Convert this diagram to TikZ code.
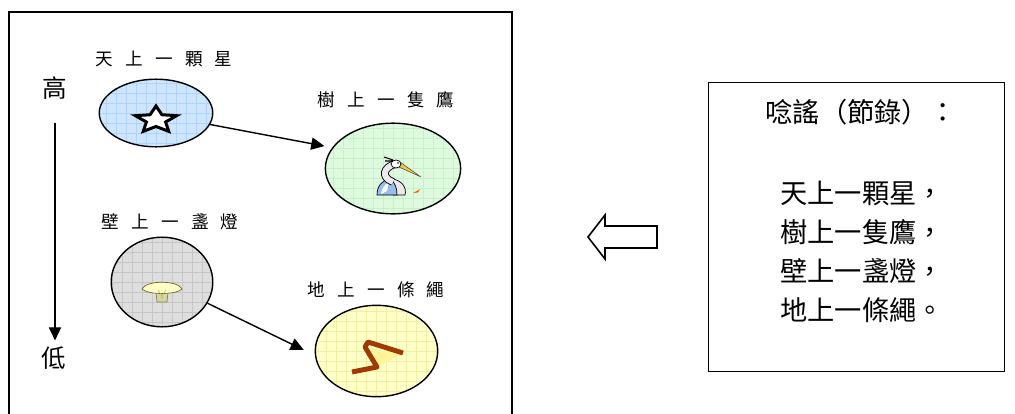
\documentclass[tikz,border=0pt]{standalone}
\usepackage{fontspec}
\newfontfamily\cjk{Noto Sans CJK TC}
\newfontfamily\cjkwide[LetterSpace=70]{Noto Sans CJK TC}
\usepackage{xcolor}
\usetikzlibrary{positioning,shapes.geometric,arrows.meta}

\definecolor{skyfill}{RGB}{206,229,255}
\definecolor{skygrid}{RGB}{178,210,248}
\definecolor{treefill}{RGB}{222,250,222}
\definecolor{treegrid}{RGB}{200,240,200}
\definecolor{wallfill}{RGB}{222,222,222}
\definecolor{wallgrid}{RGB}{198,198,198}
\definecolor{groundfill}{RGB}{255,255,200}
\definecolor{groundgrid}{RGB}{242,238,168}
\definecolor{ropebrown}{RGB}{160,58,0}
\definecolor{ropelight}{RGB}{255,244,150}
\definecolor{lampshade}{RGB}{255,255,200}
\definecolor{lampbase}{RGB}{214,214,160}
\definecolor{heronblue}{RGB}{150,190,235}
\definecolor{heronwhite}{RGB}{236,232,236}
\definecolor{beak}{RGB}{236,200,60}

\begin{document}
\begin{tikzpicture}[
  x=0.02cm, y=-0.02cm,
  scene/.style 2 args={
    ellipse, draw=black, line width=0.8pt, inner sep=0pt, fill=#1,
    path picture={\draw[#2, line width=0.3pt, step=5.67pt]
      (path picture bounding box.south west) grid (path picture bounding box.north east);}
  },
  caption/.style={font=\cjkwide\fontsize{10}{12}\selectfont, inner sep=0pt},
  level/.style={font=\cjk\fontsize{14}{16}\selectfont, inner sep=0pt},
  link/.style={-{Triangle[length=7.5pt,width=7pt]}, line width=0.8pt},
  poem/.style={font=\cjk\fontsize{15.5}{22.3}\selectfont, inner sep=0pt, align=center}
]
\clip (0,0) rectangle (1015,413);

% Frames
\draw[line width=0.8pt] (9,430) |- (512,12) -- (512,430);
\node[draw, line width=1pt, inner sep=0pt,
      minimum width=168.4pt, minimum height=164.4pt] (box) at (856.5,227) {};

% High / low scale
\node[level] (high) at (55,88) {高};
\node[level] (low)  at (54,358) {低};
\draw[link, shorten <=13pt, shorten >=10pt] (high) -- (high |- low);

% Scenes
\node[scene={skyfill}{skygrid}, minimum width=64.6pt, minimum height=38.5pt] (star) at (156,113) {};
\node[scene={treefill}{treegrid}, minimum width=77pt, minimum height=51.6pt] (heron) at (393,168.5) {};
\node[scene={wallfill}{wallgrid}, minimum width=57.8pt, minimum height=51pt] (lamp) at (162,282) {};
\node[scene={groundfill}{groundgrid}, minimum width=69.7pt, minimum height=52pt] (rope) at (376.5,351) {};

\node[caption] (starcap)  at (164,59)  {天上一顆星};
\node[caption] (heroncap) at (386,100) {樹上一隻鷹};
\node[caption] (lampcap)  at (170,222) {壁上一盞燈};
\node[caption] (ropecap)  at (376,290) {地上一條繩};

% star
\draw[line width=1.7pt, fill=white, line join=miter]
  plot[samples at={0,...,9}]
  ({156 + 1.55*(mod(\x,2)==0 ? 14 : 6.5)*sin(36*\x)}, {120 - (mod(\x,2)==0 ? 14 : 6.5)*cos(36*\x)}) -- cycle;

% heron
\fill[heronwhite, draw=black, line width=0.4pt]
  (392,179) .. controls (402,180) and (407,188) .. (405,195) -- (393,195) -- cycle;
\fill[heronblue, draw=black, line width=0.4pt]
  (377,195) .. controls (377,186) and (382,180) .. (390,179)
  .. controls (395,182) and (397,188) .. (397,195) -- cycle;
\fill[white] (381,194) .. controls (382,188) and (385,184) .. (389,182) -- (387,191) -- cycle;
\draw[black, line width=4.4pt] (393,182) .. controls (380,177) and (384,167) .. (395,164);
\draw[heronwhite, line width=3.4pt] (393,182) .. controls (380,177) and (384,167) .. (395,164);
\fill[beak, draw=black!70, line width=0.3pt] (400,162) -- (421,177) -- (399,167) -- cycle;
\draw[fill=white, line width=0.4pt] (396,164) ellipse [x radius=5, y radius=4];
\fill (398,163) circle (0.9);
\draw[line width=0.6pt] (393,160) -- (384,157) (393,161) -- (385,161);
\fill[orange!80!red] (413,193) -- (420,189) -- (418,192.5) -- cycle;

% lamp
\draw[lampbase!60!black, line width=0.4pt, fill=lampbase] (156,292) -- (168,292) -- (167,302) -- (157,302) -- cycle;
\draw[olive!70!black, line width=0.4pt, fill=lampshade]
  (142,289) .. controls (146,280) and (178,280) .. (182,289)
  .. controls (176,295) and (148,295) .. (142,289) -- cycle;
\draw[olive!60, line width=0.3pt] (158,290) -- (162,296) -- (166,290) (162,296) -- (162,299);

% rope
\fill[ropelight] (371,348) -- (401,355) -- (378,366) -- cycle;
\draw[ropebrown, line width=2.8pt, line join=round]
  (352,372) -- (377,367) -- (365,347) -- (368,342) -- (403,353);

% Links
\draw[link, shorten >=4.5pt] (star.-12) -- (heron.161);
\draw[link, shorten >=7pt] (lamp.-25) -- (rope.184);

% Hollow arrow pointing at the scenes
\draw[line width=0.9pt, line join=miter]
  (588,237) -- (605,215) -- (605,226) -- (657,226) -- (657,248) -- (605,248) -- (605,259) -- cycle;

% Rhyme
\node[poem] (title) at (861,112) {唸謠（節錄）：};
\node[poem] (verse) at (862,252) {天上一顆星，\\樹上一隻鷹，\\壁上一盞燈，\\地上一條繩。};

\end{tikzpicture}
\end{document}
